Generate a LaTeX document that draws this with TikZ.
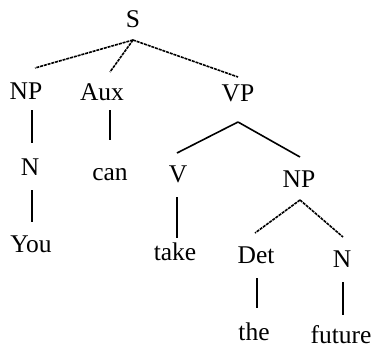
\documentclass[tikz,border=0pt]{standalone}
\usepackage{fontspec}
\setmainfont{Liberation Serif}
\begin{document}
\begin{tikzpicture}[x=1pt,y=1pt,
  lbl/.style={anchor=base,inner sep=0pt,font=\fontsize{25.5}{28}\selectfont},
  br/.style={line width=1.6pt},
  dbr/.style={line width=1.6pt,dash pattern=on 3pt off 0.9pt}]
\useasboundingbox[fill=white] (0,0) rectangle (375,-349);
% labels
\node[lbl] (S)   at (133,-27) {S};
\node[lbl] (NP)  at (26,-99)  {NP};
\node[lbl] (Aux) at (102,-100) {Aux};
\node[lbl] (VP)  at (238,-101) {VP};
\node[lbl] (N1)  at (30,-175) {N};
\node[lbl] (can) at (110,-180) {can};
\node[lbl] (V)   at (178,-182) {V};
\node[lbl] (NP2) at (299,-187) {NP};
\node[lbl] (You) at (31,-252) {You};
\node[lbl] (take) at (175,-260) {take};
\node[lbl] (Det) at (256,-263) {Det};
\node[lbl] (N2)  at (342,-267) {N};
\node[lbl] (the) at (254,-340) {the};
\node[lbl] (future) at (341,-343) {future};
% S branches
\draw[dbr] ([yshift=-13pt]S.base) -- ([shift={(9pt,31pt)}]NP.base);
\draw[dbr] ([yshift=-13pt]S.base) -- ([shift={(8pt,28pt)}]Aux.base);
\draw[dbr] ([yshift=-13pt]S.base) -- ([shift={(0pt,24pt)}]VP.base);
% unary
\draw[br] ([shift={(6pt,-11pt)}]NP.base) -- ([shift={(2pt,32pt)}]N1.base);
\draw[br] ([shift={(8pt,-10pt)}]Aux.base) -- ([shift={(0pt,40pt)}]can.base);
\draw[br] ([shift={(2pt,-15pt)}]N1.base) -- ([shift={(1pt,30pt)}]You.base);
% VP branches
\draw[br] ([yshift=-21pt]VP.base) -- ([shift={(-1pt,29pt)}]V.base);
\draw[br] ([yshift=-21pt]VP.base) -- ([shift={(1pt,30pt)}]NP2.base);
\draw[br] ([shift={(-1pt,-15pt)}]V.base) -- ([shift={(2pt,22pt)}]take.base);
% NP2 branches
\draw[dbr] ([shift={(1pt,-13pt)}]NP2.base) -- ([shift={(-1pt,30pt)}]Det.base);
\draw[dbr] ([shift={(1pt,-13pt)}]NP2.base) -- ([shift={(1pt,30pt)}]N2.base);
\draw[br] ([shift={(1pt,-15pt)}]Det.base) -- ([shift={(3pt,32pt)}]the.base);
\draw[br] ([shift={(1pt,-15pt)}]N2.base) -- ([shift={(2pt,28pt)}]future.base);
\end{tikzpicture}
\end{document}
